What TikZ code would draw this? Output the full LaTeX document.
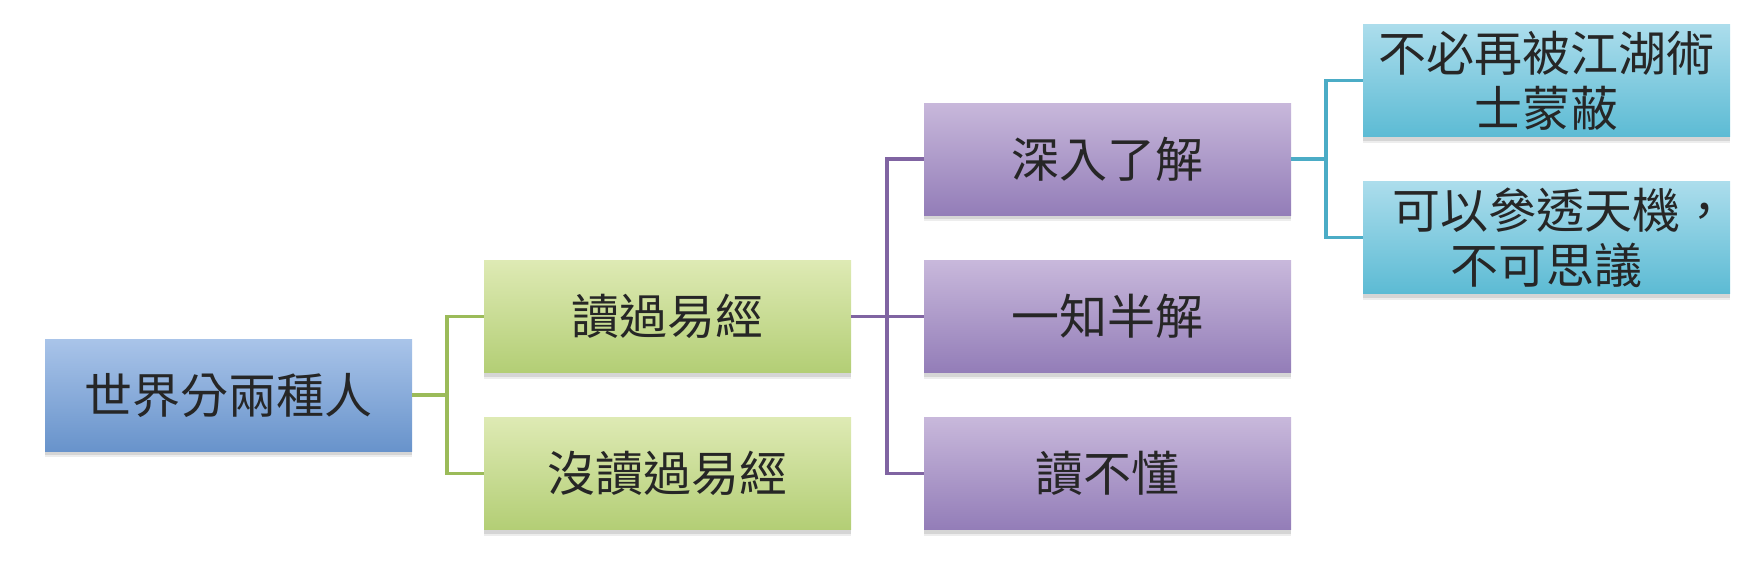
\documentclass[tikz,border=0pt]{standalone}
\usepackage{fontspec}
\newfontfamily\cjk{Noto Sans CJK TC}
\usetikzlibrary{shadows}
\definecolor{bluetop}{HTML}{A9C4E9}
\definecolor{bluebot}{HTML}{6893CB}
\definecolor{greentop}{HTML}{DEEAB4}
\definecolor{greenbot}{HTML}{B3CE75}
\definecolor{purptop}{HTML}{C8B8DB}
\definecolor{purpbot}{HTML}{937DB8}
\definecolor{cyantop}{HTML}{ACDDEC}
\definecolor{cyanbot}{HTML}{5CBBD4}
\definecolor{greenline}{HTML}{9BBB59}
\definecolor{purpline}{HTML}{8064A2}
\definecolor{cyanline}{HTML}{4BACC6}
\tikzset{
  boxbase/.style={minimum width=183.5pt, minimum height=56pt, inner sep=0pt,
    font=\cjk\fontsize{24pt}{27.5pt}\selectfont, align=center, text=black!85,
    drop shadow={shadow xshift=0pt, shadow yshift=-3.2pt, opacity=0.07, fill=black},
    drop shadow={shadow xshift=0pt, shadow yshift=-2pt, opacity=0.10, fill=black}},
  bluebox/.style={boxbase, top color=bluetop, bottom color=bluebot},
  greenbox/.style={boxbase, top color=greentop, bottom color=greenbot},
  purpbox/.style={boxbase, top color=purptop, bottom color=purpbot},
  cyanbox/.style={boxbase, top color=cyantop, bottom color=cyanbot},
  conn/.style={line width=1.6pt}
}
\begin{document}
\begin{tikzpicture}[x=0.5pt,y=-0.5pt]
\useasboundingbox (0,0) rectangle (1747,568);
\node[bluebox] (root) at (228.5,395) {世界分兩種人};
\node[greenbox] (g1) at (667.5,316.5) {讀過易經};
\node[greenbox] (g2) at (667.5,473.5) {沒讀過易經};
\node[purpbox] (p1) at (1107.5,159) {深入了解};
\node[purpbox] (p2) at (1107.5,316.5) {一知半解};
\node[purpbox] (p3) at (1107.5,473.5) {讀不懂};
\node[cyanbox] (c1) at (1546.5,80.5) {不必再被江湖術\\士蒙蔽};
\node[cyanbox] (c2) at (1546.5,237.5) {\hspace*{0.6em}可以參透天機，\\不可思議};
\coordinate (j1) at (447,395);
\coordinate (j2) at (887,316.5);
\coordinate (j3) at (1326,159);
\draw[conn, greenline] (root.east) -- (j1);
\draw[conn, greenline] (g1.west) -| (j1) |- (g2.west);
\draw[conn, purpline] (g1.east) -- (p2.west);
\draw[conn, purpline] (p1.west) -| (j2) |- (p3.west);
\draw[conn, cyanline] (p1.east) -- (j3);
\draw[conn, cyanline] (c1.west) -| (j3) |- (c2.west);
\end{tikzpicture}
\end{document}
